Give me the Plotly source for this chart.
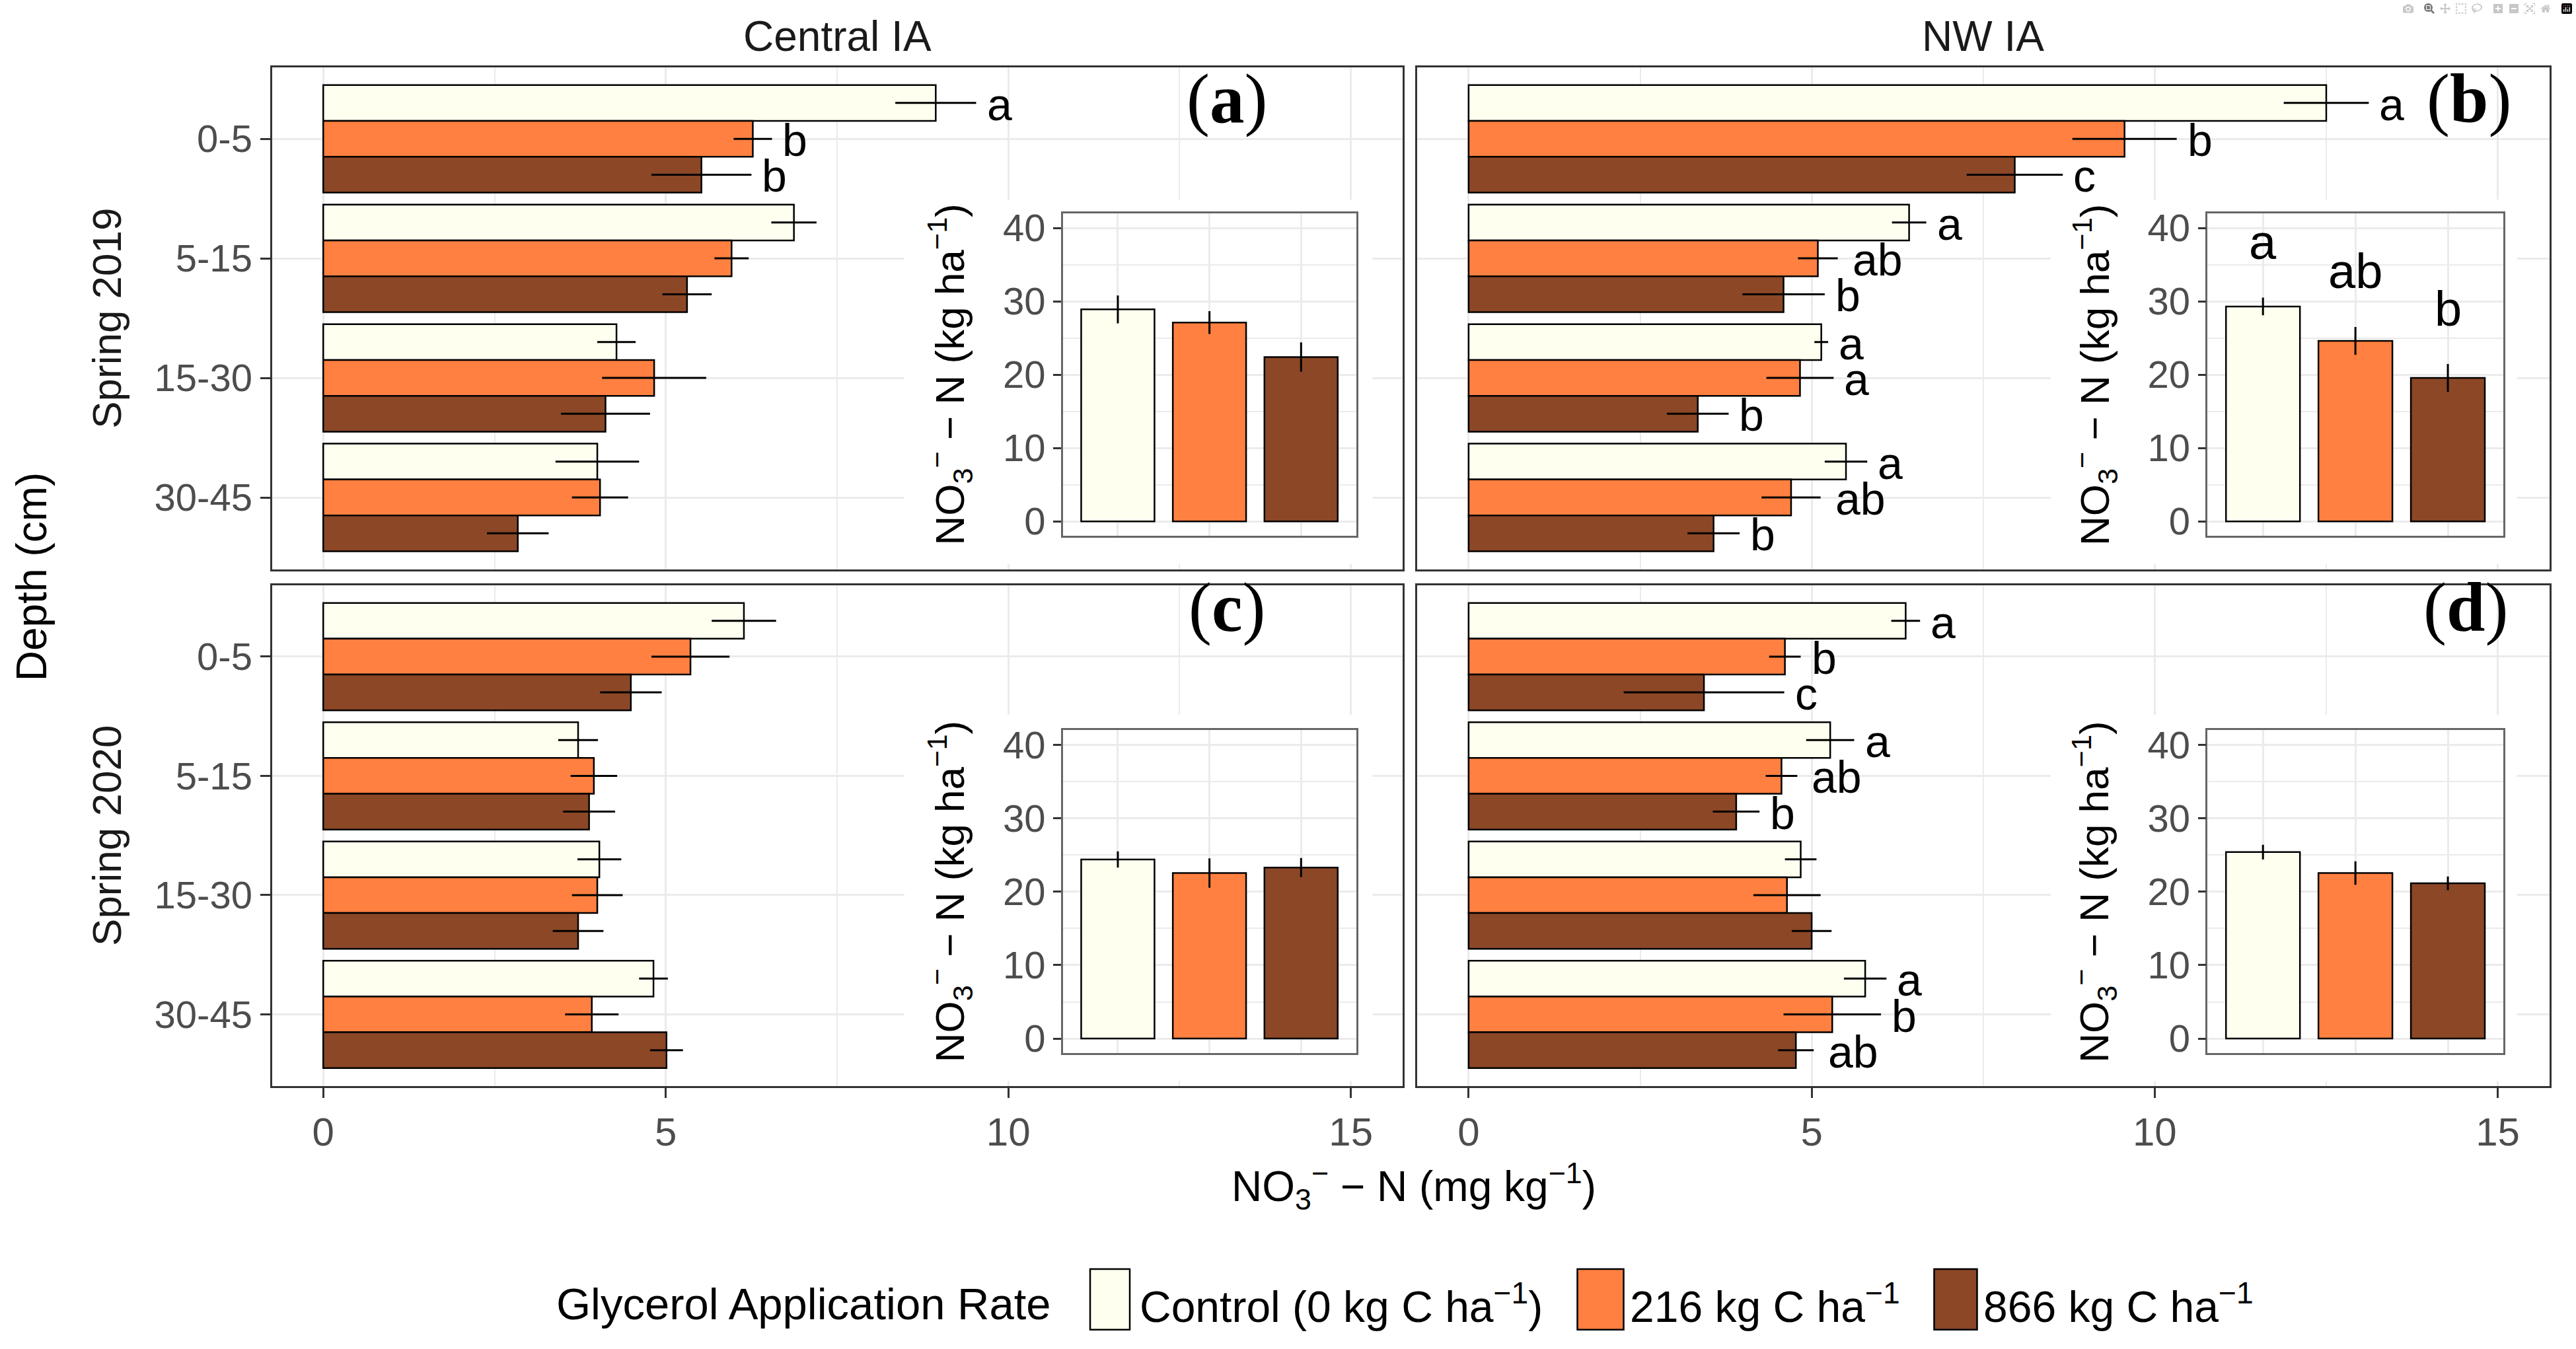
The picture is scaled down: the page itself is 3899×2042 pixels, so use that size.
import plotly.graph_objects as go

# ---------------- data ----------------
depths = ["0-5", "5-15", "15-30", "30-45"]
rates = ["Control", "216", "866"]
legend_labels = ["Control (0 kg C ha<sup>−1</sup>)", "216 kg C ha<sup>−1</sup>", "866 kg C ha<sup>−1</sup>"]
fill_colors = ["#FFFFF0", "#FF8040", "#8B4726"]
sites = ["Central IA", "NW IA"]
seasons = ["Spring 2019", "Spring 2020"]
panel_tags = ["a", "b", "c", "d"]
x_ticks = [0, 5, 10, 15]
inset_ticks = [0, 10, 20, 30, 40]

# NO3-N (mg/kg) by depth; (a) Central IA 2019
a_ctrl = [8.94, 6.87, 4.28, 4.00]
a_ctrl_se = [0.59, 0.33, 0.28, 0.61]
a_216 = [6.27, 5.96, 4.83, 4.04]
a_216_se = [0.28, 0.25, 0.76, 0.41]
a_866 = [5.52, 5.31, 4.12, 2.84]
a_866_se = [0.73, 0.36, 0.65, 0.45]
a_ctrl_let = ["a", "", "", ""]
a_216_let = ["b", "", "", ""]
a_866_let = ["b", "", "", ""]

# (b) NW IA 2019
b_ctrl = [12.50, 6.42, 5.14, 5.50]
b_ctrl_se = [0.62, 0.25, 0.10, 0.31]
b_216 = [9.56, 5.09, 4.83, 4.70]
b_216_se = [0.76, 0.29, 0.49, 0.43]
b_866 = [7.96, 4.59, 3.34, 3.57]
b_866_se = [0.70, 0.60, 0.45, 0.38]
b_ctrl_let = ["a", "a", "a", "a"]
b_216_let = ["b", "ab", "a", "ab"]
b_866_let = ["c", "b", "b", "b"]

# (c) Central IA 2020
c_ctrl = [6.14, 3.72, 4.03, 4.82]
c_ctrl_se = [0.47, 0.29, 0.32, 0.21]
c_216 = [5.36, 3.95, 4.00, 3.92]
c_216_se = [0.57, 0.34, 0.37, 0.39]
c_866 = [4.49, 3.88, 3.72, 5.01]
c_866_se = [0.45, 0.38, 0.37, 0.24]
c_ctrl_let = ["", "", "", ""]
c_216_let = ["", "", "", ""]
c_866_let = ["", "", "", ""]

# (d) NW IA 2020
d_ctrl = [6.37, 5.27, 4.84, 5.78]
d_ctrl_se = [0.21, 0.35, 0.23, 0.31]
d_216 = [4.61, 4.56, 4.64, 5.30]
d_216_se = [0.23, 0.23, 0.49, 0.71]
d_866 = [3.43, 3.90, 5.00, 4.77]
d_866_se = [1.17, 0.34, 0.29, 0.26]
d_ctrl_let = ["a", "a", "", "a"]
d_216_let = ["b", "ab", "", "b"]
d_866_let = ["c", "b", "", "ab"]

# profile totals (kg/ha), insets
a_total = [28.9, 27.1, 22.4]
a_total_se = [1.9, 1.55, 2.0]
a_total_let = ["", "", ""]
b_total = [29.3, 24.6, 19.55]
b_total_se = [1.2, 1.9, 1.9]
b_total_let = ["a", "ab", "b"]
c_total = [24.4, 22.55, 23.3]
c_total_se = [1.1, 2.0, 1.3]
c_total_let = ["", "", ""]
d_total = [25.4, 22.55, 21.15]
d_total_se = [1.0, 1.6, 0.93]
d_total_let = ["", "", ""]

panels_mean = [[a_ctrl, a_216, a_866], [b_ctrl, b_216, b_866], [c_ctrl, c_216, c_866], [d_ctrl, d_216, d_866]]
panels_se = [[a_ctrl_se, a_216_se, a_866_se], [b_ctrl_se, b_216_se, b_866_se],
             [c_ctrl_se, c_216_se, c_866_se], [d_ctrl_se, d_216_se, d_866_se]]
panels_let = [[a_ctrl_let, a_216_let, a_866_let], [b_ctrl_let, b_216_let, b_866_let],
              [c_ctrl_let, c_216_let, c_866_let], [d_ctrl_let, d_216_let, d_866_let]]
insets_mean = [a_total, b_total, c_total, d_total]
insets_se = [a_total_se, b_total_se, c_total_se, d_total_se]
insets_let = [a_total_let, b_total_let, c_total_let, d_total_let]

# ---------------- layout geometry ----------------
W, H = 3899, 2042
SC = 2.5


def fx(v):
    return v * SC / W


def fy(v):
    return 1 - v * SC / H


col_x = [(164.6, 849.0), (858.0, 1543.4)]
row_y = [(37.0, 344.0), (353.7, 660.0)]
inset_x = [(643.5, 821.0), (1336.5, 1515.6)]
inset_y = [(126.4, 323.7), (442.5, 640.0)]
cover_x = [(547.5, 831.0), (1241.6, 1523.8)]
cover_y = [(118.0, 341.0), (433.0, 657.0)]
tag_pos = [(0.845, 0.937), (0.929, 0.937), (0.845, 0.955), (0.926, 0.955)]
inset_title_x = [575.0, 1268.0]

FONT = "Liberation Sans, Arial, sans-serif"
SERIF = "Liberation Serif, Times New Roman, serif"
TICK_COLOR = "#4D4D4D"
GRID = "#EBEBEB"
BORDER = "#333333"


def ax_name(kind, n):
    return kind if n == 1 else f"{kind}{n}"


def ax_ref(kind, n):
    return kind if n == 1 else f"{kind}{n}"


fig = go.Figure()
layout = {}
annotations = []
shapes = []

# main panels
for p in range(4):
    r, c = divmod(p, 2)
    n = p + 1
    xr, yr = ax_ref("x", n), ax_ref("y", n)
    for k in range(3):
        fig.add_trace(go.Bar(
            y=depths, x=panels_mean[p][k], orientation="h",
            marker=dict(color=fill_colors[k], line=dict(color="black", width=2.5)),
            error_x=dict(type="data", array=panels_se[p][k], visible=True,
                         color="black", thickness=3, width=0),
            xaxis=xr, yaxis=yr, showlegend=False, hoverinfo="skip", name=rates[k]))
        for i, lab in enumerate(panels_let[p][k]):
            if lab:
                annotations.append(dict(
                    x=panels_mean[p][k][i] + panels_se[p][k][i], y=i + (k - 1) * 0.3,
                    xref=xr, yref=yr, text=lab, showarrow=False, xanchor="left",
                    yanchor="middle", xshift=8 + 6 * len(lab), yshift=-2,
                    font=dict(family=FONT, size=68, color="black")))
    layout[ax_name("xaxis", n)] = dict(
        domain=[fx(col_x[c][0]), fx(col_x[c][1])], anchor=yr,
        range=[-0.75, 15.75], autorange=False, tickmode="array", tickvals=x_ticks,
        showticklabels=(r == 1), ticks="outside" if r == 1 else "", ticklen=15,
        tickwidth=3, tickcolor=BORDER, tickfont=dict(family=FONT, size=60, color=TICK_COLOR),
        showgrid=True, gridcolor=GRID, gridwidth=3,
        minor=dict(dtick=2.5, tick0=0, showgrid=True, gridcolor=GRID, gridwidth=1.5, ticks=""),
        zeroline=False, showline=True, mirror=True, linecolor=BORDER, linewidth=3)
    layout[ax_name("yaxis", n)] = dict(
        domain=[fy(row_y[r][1]), fy(row_y[r][0])], anchor=xr,
        type="category", categoryorder="array", categoryarray=depths,
        range=[3.6, -0.6], autorange=False,
        showticklabels=(c == 0), ticks="outside" if c == 0 else "", ticklen=15,
        tickwidth=3, tickcolor=BORDER, tickfont=dict(family=FONT, size=58, color=TICK_COLOR),
        showgrid=True, gridcolor=GRID, gridwidth=3, zeroline=False,
        showline=True, mirror=True, linecolor=BORDER, linewidth=3)
    annotations.append(dict(
        x=tag_pos[p][0], y=tag_pos[p][1], xref=f"{xr} domain", yref=f"{yr} domain",
        text=f"(<b>{panel_tags[p]}</b>)", showarrow=False, xanchor="center", yanchor="middle",
        font=dict(family=SERIF, size=105, color="black")))

# white covers behind insets (hide main gridlines)
for p in range(4):
    r, c = divmod(p, 2)
    n = p + 5
    xr, yr = ax_ref("x", n), ax_ref("y", n)
    fig.add_trace(go.Scatter(x=[None], y=[None], mode="markers", xaxis=xr, yaxis=yr,
                             showlegend=False, hoverinfo="skip"))
    layout[ax_name("xaxis", n)] = dict(domain=[fx(cover_x[c][0]), fx(cover_x[c][1])],
                                       anchor=yr, visible=False, range=[0, 1])
    layout[ax_name("yaxis", n)] = dict(domain=[fy(cover_y[r][1]), fy(cover_y[r][0])],
                                       anchor=xr, visible=False, range=[0, 1])

# inset bar charts
for p in range(4):
    r, c = divmod(p, 2)
    n = p + 9
    xr, yr = ax_ref("x", n), ax_ref("y", n)
    fig.add_trace(go.Bar(
        x=rates, y=insets_mean[p], width=0.8,
        marker=dict(color=fill_colors, line=dict(color="black", width=2.5)),
        error_y=dict(type="data", array=insets_se[p], visible=True,
                     color="black", thickness=3, width=0),
        xaxis=xr, yaxis=yr, showlegend=False, hoverinfo="skip"))
    for i, lab in enumerate(insets_let[p]):
        if lab:
            annotations.append(dict(
                x=i, y=insets_mean[p][i] + insets_se[p][i], xref=xr, yref=yr,
                text=lab, showarrow=False, xanchor="center", yanchor="middle", yshift=84,
                font=dict(family=FONT, size=74, color="black")))
    layout[ax_name("xaxis", n)] = dict(
        domain=[fx(inset_x[c][0]), fx(inset_x[c][1])], anchor=yr,
        type="category", categoryorder="array", categoryarray=rates,
        range=[-0.6, 2.6], autorange=False, showticklabels=False, ticks="",
        showgrid=True, gridcolor=GRID, gridwidth=3, zeroline=False,
        showline=True, mirror=True, linecolor="#666666", linewidth=2.5)
    layout[ax_name("yaxis", n)] = dict(
        domain=[fy(inset_y[r][1]), fy(inset_y[r][0])], anchor=xr,
        range=[-2, 42], autorange=False, tickmode="array", tickvals=inset_ticks,
        ticks="outside", ticklen=12, tickwidth=3, tickcolor=BORDER,
        tickfont=dict(family=FONT, size=58, color=TICK_COLOR),
        showgrid=True, gridcolor=GRID, gridwidth=3,
        minor=dict(dtick=5, tick0=0, showgrid=True, gridcolor=GRID, gridwidth=1.5, ticks=""),
        zeroline=False, showline=True, mirror=True, linecolor="#666666", linewidth=2.5)
    annotations.append(dict(
        x=fx(inset_title_x[c]), y=fy((inset_y[r][0] + inset_y[r][1]) / 2),
        xref="paper", yref="paper", textangle=-90, showarrow=False,
        xanchor="center", yanchor="middle",
        text="NO<sub>3</sub><sup>−</sup> − N (kg ha<sup>−1</sup>)",
        font=dict(family=FONT, size=62, color="black")))

# facet strip labels and axis titles
for c in range(2):
    annotations.append(dict(x=fx((col_x[c][0] + col_x[c][1]) / 2), y=fy(18), xref="paper", yref="paper",
                            text=sites[c], showarrow=False, xanchor="center", yanchor="middle",
                            font=dict(family=FONT, size=64, color="#1A1A1A")))
for r in range(2):
    annotations.append(dict(x=fx(64.5), y=fy((row_y[r][0] + row_y[r][1]) / 2), xref="paper", yref="paper",
                            text=seasons[r], textangle=-90, showarrow=False, xanchor="center",
                            yanchor="middle", font=dict(family=FONT, size=62, color="#1A1A1A")))
annotations.append(dict(x=fx(19), y=fy((row_y[0][0] + row_y[1][1]) / 2), xref="paper", yref="paper",
                        text="Depth (cm)", textangle=-90, showarrow=False, xanchor="center",
                        yanchor="middle", font=dict(family=FONT, size=64, color="black")))
annotations.append(dict(x=fx(856), y=fy(721), xref="paper", yref="paper",
                        text="NO<sub>3</sub><sup>−</sup> − N (mg kg<sup>−1</sup>)", showarrow=False,
                        xanchor="center", yanchor="middle", font=dict(family=FONT, size=64, color="black")))

# legend (drawn manually so the keys scale with the text)
leg_key_x = [(660, 684), (955, 983), (1171, 1197)]
leg_text_x = [689, 986, 1200]
annotations.append(dict(x=fx(336), y=fy(793), xref="paper", yref="paper", text="Glycerol Application Rate",
                        showarrow=False, xanchor="left", yanchor="middle",
                        font=dict(family=FONT, size=67, color="black")))
for k in range(3):
    shapes.append(dict(type="rect", xref="paper", yref="paper",
                       x0=fx(leg_key_x[k][0]), x1=fx(leg_key_x[k][1]), y0=fy(809), y1=fy(772),
                       fillcolor=fill_colors[k], line=dict(color="black", width=2.5)))
    annotations.append(dict(x=fx(leg_text_x[k]), y=fy(793), xref="paper", yref="paper",
                            text=legend_labels[k], showarrow=False, xanchor="left", yanchor="middle",
                            font=dict(family=FONT, size=66, color="black")))

fig.update_layout(
    width=W, height=H, margin=dict(l=0, r=0, t=0, b=0),
    paper_bgcolor="white", plot_bgcolor="white",
    barmode="group", bargap=0.1, bargroupgap=0.0,
    showlegend=False, hovermode=False,
    font=dict(family=FONT, size=58, color="black"),
    annotations=annotations, shapes=shapes,
    **layout)

fig.write_html("out.html", post_script="document.body.style.margin='0';")
